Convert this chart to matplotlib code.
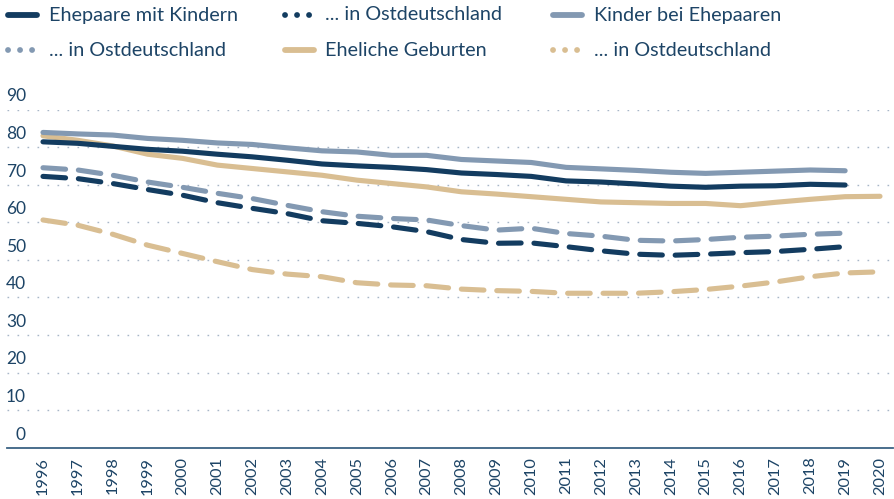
import matplotlib
matplotlib.use("Agg")
import matplotlib.pyplot as plt
from matplotlib.lines import Line2D
import matplotlib.transforms as mtransforms

plt.rcParams['font.family'] = ['Lato', 'DejaVu Sans']

# data (percent)
years = list(range(1996, 2021))
ehepaare = [81.4, 81.0, 80.2, 79.4, 78.9, 78.1, 77.4, 76.5, 75.5, 75.0, 74.6, 74.0,
            73.1, 72.7, 72.2, 71.0, 70.7, 70.2, 69.6, 69.3, 69.6, 69.7, 70.1, 69.9]
ehepaare_ost = [72.2, 71.6, 70.3, 68.7, 67.2, 65.2, 63.7, 62.3, 60.4, 59.7, 58.8, 57.5,
                55.4, 54.4, 54.5, 53.5, 52.4, 51.5, 51.2, 51.5, 51.9, 52.2, 52.8, 53.5]
kinder = [83.9, 83.5, 83.2, 82.3, 81.8, 81.1, 80.7, 79.8, 79.0, 78.7, 77.8, 77.8,
          76.7, 76.3, 75.9, 74.6, 74.2, 73.8, 73.3, 73.0, 73.3, 73.6, 73.9, 73.7]
kinder_ost = [74.5, 73.9, 72.5, 70.7, 69.3, 67.7, 66.3, 64.5, 62.8, 61.6, 61.0, 60.6,
              59.1, 57.9, 58.4, 57.0, 56.3, 55.2, 55.0, 55.4, 56.0, 56.3, 56.8, 57.1]
geburten = [83.0, 81.8, 80.3, 78.1, 77.0, 75.2, 74.3, 73.4, 72.5, 71.2, 70.3, 69.4,
            68.1, 67.5, 66.8, 66.1, 65.4, 65.2, 65.0, 65.0, 64.4, 65.3, 66.1, 66.8, 66.9]
geburten_ost = [60.6, 59.2, 56.8, 53.9, 51.7, 49.5, 47.4, 46.2, 45.5, 43.9, 43.3, 43.1,
                42.2, 41.8, 41.6, 41.1, 41.1, 41.1, 41.5, 42.1, 43.0, 44.1, 45.5, 46.5, 46.8]

yticks = [0, 10, 20, 30, 40, 50, 60, 70, 80, 90]
labels = ["Ehepaare mit Kindern", "... in Ostdeutschland", "Kinder bei Ehepaaren",
          "... in Ostdeutschland", "Eheliche Geburten", "... in Ostdeutschland"]

DARK = "#133c60"
LIGHT = "#8399b2"
TAN = "#d9be92"
TEXT = "#1d4466"
GRID = "#a8b7c8"

series = [
    (ehepaare, DARK, "solid"),
    (ehepaare_ost, DARK, "dash"),
    (kinder, LIGHT, "solid"),
    (kinder_ost, LIGHT, "dash"),
    (geburten, TAN, "solid"),
    (geburten_ost, TAN, "dash"),
]

fig = plt.figure(figsize=(8.94, 4.99), dpi=100)
W, H = 894, 499
ax = fig.add_axes([7 / W, (H - 447.7) / H, 886 / W, (447.7 - 109.5) / H])

lw = 3.7
# draw back to front so dark lines are on top
for vals, col, style in [series[4], series[5], series[2], series[3], series[0], series[1]]:
    xs = years[:len(vals)]
    if style == "solid":
        ax.plot(xs, vals, color=col, lw=lw, solid_capstyle="round", solid_joinstyle="round")
    else:
        ax.plot(xs, vals, color=col, lw=lw, dashes=(4.4, 2.5),
                dash_capstyle="round", dash_joinstyle="round")

ax.set_xlim(1996 - 36 / 34.875, 2020 + 13 / 34.875)
ax.set_ylim(0, 90)

for s in ax.spines.values():
    s.set_visible(False)
ax.axhline(0, color="#3a6283", lw=1.3, clip_on=False)

for v in yticks[1:]:
    ax.axhline(v, color=GRID, lw=1.0, dashes=(1.2, 6), zorder=0)

ax.set_yticks([])
ax.set_xticks(years)
ax.set_xticklabels([str(y) for y in years], rotation=90, fontsize=11.8, color=TEXT)
ax.tick_params(axis="x", length=0, pad=6.5)

trans = mtransforms.blended_transform_factory(ax.transAxes, ax.transData)
for v in yticks:
    ax.annotate(str(v), xy=(19 / 886, v), xycoords=trans, xytext=(0, 5.8),
                textcoords="offset points", ha="right", va="baseline",
                fontsize=12.5, color=TEXT)

# legend, laid out by hand in two rows of three
handle_x = [5, 282, 550]
text_x = [49, 325, 594]
row_y = [15, 50]
for i, (lab, (vals, col, style)) in enumerate(zip(labels, series)):
    r, c = divmod(i, 3)
    x0 = handle_x[c]
    yy = 1 - row_y[r] / H
    if style == "solid":
        ln = Line2D([(x0 + 3) / W, (x0 + 32) / W], [yy, yy], transform=fig.transFigure,
                    color=col, lw=4.2, solid_capstyle="round")
    else:
        ln = Line2D([(x0 + 3) / W, (x0 + 30) / W], [yy, yy], transform=fig.transFigure,
                    color=col, lw=4.2, dashes=(0.01, 2.05), dash_capstyle="round")
    fig.add_artist(ln)
    fig.text(text_x[c] / W, yy, lab, ha="left", va="center", fontsize=14.3, color=TEXT)

fig.savefig("out.png", dpi=100)
